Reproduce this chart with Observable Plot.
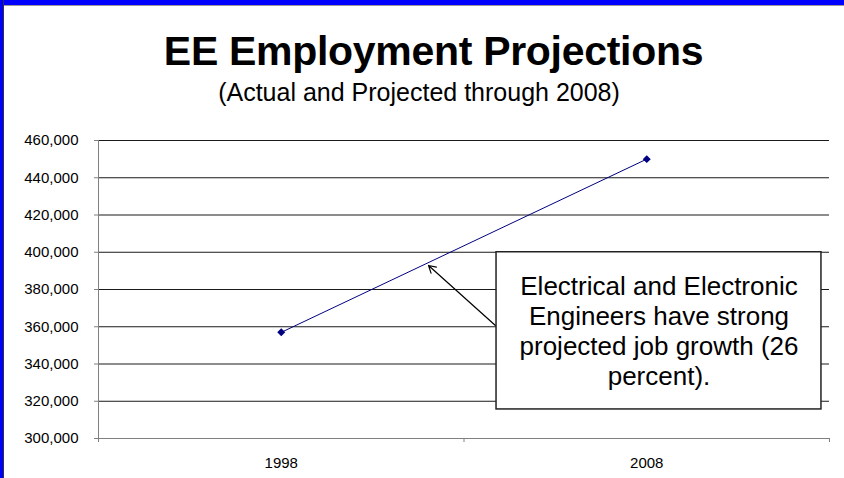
<!DOCTYPE html>
<html>
<head>
<meta charset="utf-8">
<script src="https://cdn.jsdelivr.net/npm/d3@7"></script>
<script src="https://cdn.jsdelivr.net/npm/@observablehq/plot@0.6"></script>
<style>
  html, body { margin: 0; padding: 0; background: #fff; }
  #page { position: relative; width: 844px; height: 478px; overflow: hidden; background: #fff; font-family: "Liberation Sans", Arial, sans-serif; }
  #title { position: absolute; left: 0; width: 867px; top: 31px; text-align: center; font-size: 41px; line-height: 41px; font-weight: bold; color: #000; white-space: nowrap; letter-spacing: -0.3px; }
  #subtitle { position: absolute; left: 0; width: 838px; top: 80px; text-align: center; font-size: 25px; line-height: 25px; color: #000; white-space: nowrap; }
  #chart { position: absolute; left: 0; top: 110px; }
  .bl { position: absolute; left: 0; top: 0; width: 3px; height: 478px; background: #0000ff; border-right: 1px solid #333; }
  .bt { position: absolute; left: 0; top: 0; width: 844px; height: 5px; background: #0000ff; border-bottom: 1px solid #999; }
</style>
</head>
<body>
<div id="page">
  <div id="title">EE Employment Projections</div>
  <div id="subtitle">(Actual and Projected through 2008)</div>
  <div id="chart"></div>
  <div class="bt"></div>
  <div class="bl"></div>
</div>
<script>
// Data
const years = ["1998", "2008"];
const employment = [357000, 450000];
const yTicks = [300000, 320000, 340000, 360000, 380000, 400000, 420000, 440000, 460000];
const noteText = "Electrical and Electronic\nEngineers have strong\nprojected job growth (26\npercent).";

const data = years.map((y, i) => ({ pos: i + 0.5, year: y, value: employment[i] }));
const boundaries = d3.range(years.length + 1);

const chart = Plot.plot({
  width: 844,
  height: 368,
  marginLeft: 98,
  marginRight: 15,
  marginTop: 30,
  marginBottom: 40,
  style: { fontFamily: "'Liberation Sans', Arial, sans-serif", fontSize: "15px", color: "#000", background: "transparent" },
  x: { type: "linear", domain: [0, years.length] },
  y: { domain: [yTicks[0], yTicks[yTicks.length - 1]] },
  marks: [
    Plot.gridY(yTicks, { stroke: "#1a1a1a", strokeOpacity: 1, strokeWidth: 1 }),
    Plot.ruleX([0], { stroke: "#808080" }),
    Plot.ruleY([yTicks[0]], { stroke: "#808080" }),
    Plot.axisY({ ticks: yTicks, tickFormat: d3.format(","), tickSize: 4, tickPadding: 16, stroke: "#808080", fill: "#000", fontSize: 15, label: null }),
    Plot.axisX({ ticks: boundaries, tickFormat: () => "", tickSize: 4, stroke: "#808080", label: null }),
    Plot.axisX({ ticks: data.map(d => d.pos), tickFormat: d => years[Math.floor(d)], tickSize: 0, tickPadding: 19, fill: "#000", fontSize: 15, label: null }),
    Plot.line(data, { x: "pos", y: "value", stroke: "#000080", strokeWidth: 1 }),
    Plot.dot(data, { x: "pos", y: "value", symbol: "diamond2", r: 3.6, fill: "#000080", stroke: "none" }),
    Plot.arrow([{ x1: 1.086, y1: 360700, x2: 0.903, y2: 392900 }], { x1: "x1", y1: "y1", x2: "x2", y2: "y2", stroke: "#000", strokeWidth: 1.2, headLength: 10 }),
    Plot.rect([{ x1: 1.089, x2: 1.978, y1: 315600, y2: 400000 }], { x1: "x1", x2: "x2", y1: "y1", y2: "y2", fill: "#fff", stroke: "#222", strokeWidth: 1.5 }),
    Plot.text([noteText], { x: 1.5335, y: 388600, text: d => d, lineAnchor: "top", textAnchor: "middle", fontSize: 26, lineHeight: 1.154, fill: "#000" })
  ]
});
document.getElementById("chart").appendChild(chart);
</script>
</body>
</html>
